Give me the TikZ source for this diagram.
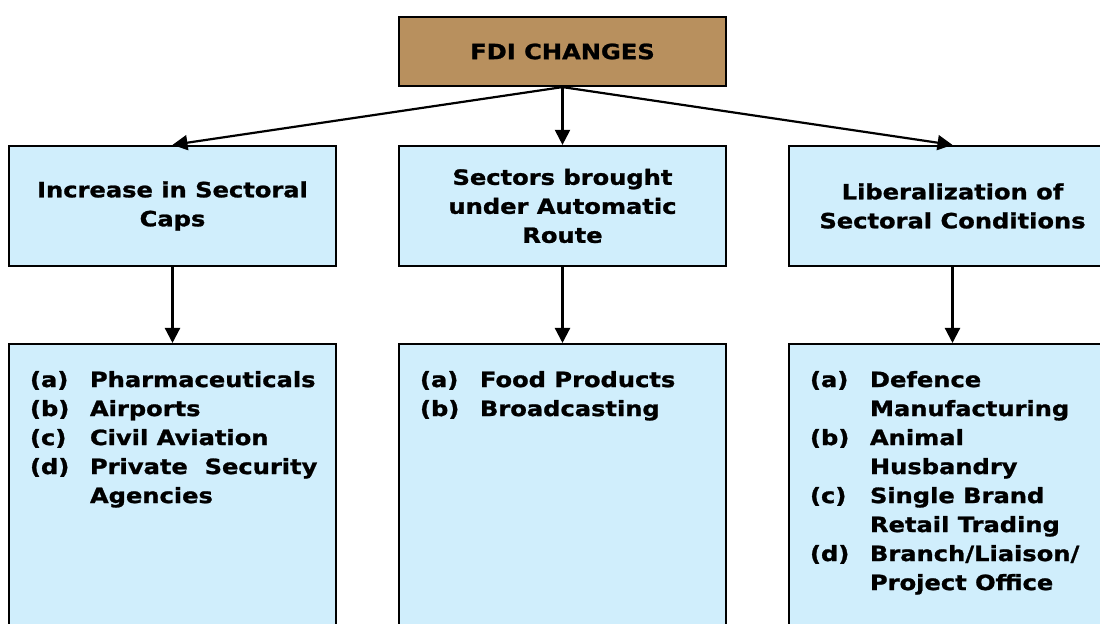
\documentclass[tikz,border=0pt]{standalone}
\usepackage{fontspec}
\setmainfont{DejaVu Sans}[FakeStretch=1.15, BoldFeatures={FakeBold=1.2}]
\usetikzlibrary{arrows.meta}
\definecolor{cbrown}{HTML}{B8905E}
\definecolor{cblue}{HTML}{D0EEFC}
\tikzset{
  every picture/.style={font=\bfseries\fontsize{10.5}{14.5}\selectfont, line width=1.1pt},
  box/.style={draw=black, fill=#1, minimum width=163.5pt, align=center, inner sep=0pt},
  box/.default=cblue,
  arrow/.style={-{Triangle[length=7.5pt, width=7.5pt]}, draw=black},
  items/.style={anchor=north west, align=left, inner sep=0pt},
}
\newcommand{\lbl}[1]{\makebox[30pt][l]{#1}}

\begin{document}
\begin{tikzpicture}[x=0.5pt, y=-0.5pt]
  \useasboundingbox (0,0) rectangle (1100,624);
  \node[box=cbrown, minimum height=34.5pt] (fdi) at (562.5,51.5) {FDI CHANGES};
  \node[box, minimum height=60pt] (caps) at (172.5,206) {Increase in Sectoral\\Caps};
  \node[box, minimum height=60pt] (auto) at (562.5,206) {Sectors brought\\under Automatic\\Route};
  \node[box, minimum height=60pt] (lib) at (952.5,206) {Liberalization of\\Sectoral Conditions};
  % lower boxes run past the page edge
  \foreach \k/\x in {caps/172.5, auto/562.5, lib/952.5} {
    \node[box, minimum height=160pt, anchor=north] (\k l) at (\x,343) {};
    \draw[arrow] (fdi.south) -- (\k.north);
    \draw[arrow] (\k.south) -- (\k l.north);
  }
  \node[items] (capsi) at ([shift={(21,27)}]capsl.north west)
    {\lbl{(a)}Pharmaceuticals\\\lbl{(b)}Airports\\\lbl{(c)}Civil Aviation\\
     \lbl{(d)}Private\ \ Security\\\lbl{}Agencies};
  \node[items] (autoi) at ([shift={(21,27)}]autol.north west)
    {\lbl{(a)}Food Products\\\lbl{(b)}Broadcasting};
  \node[items] (libi) at ([shift={(21,27)}]libl.north west)
    {\lbl{(a)}Defence\\\lbl{}Manufacturing\\\lbl{(b)}Animal\\\lbl{}Husbandry\\
     \lbl{(c)}Single Brand\\\lbl{}Retail Trading\\\lbl{(d)}Branch/Liaison/\\\lbl{}Project Office};
\end{tikzpicture}
\end{document}
